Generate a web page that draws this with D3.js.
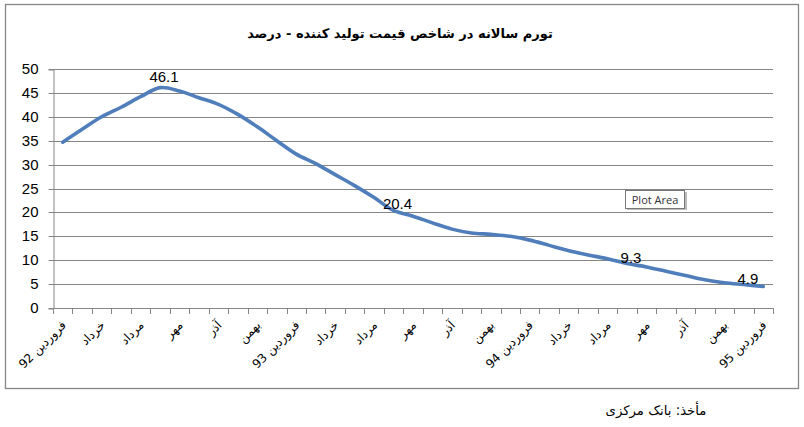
<!DOCTYPE html>
<html>
<head>
<meta charset="utf-8">
<script src="https://cdn.jsdelivr.net/npm/d3@7"></script>
<style>
  html, body { margin: 0; padding: 0; background: #fff; }
  svg { display: block; }
</style>
</head>
<body>
<svg id="chart" width="804" height="427"></svg>
<script>
// ---- data ----
const title = "تورم سالانه در شاخص قیمت تولید کننده - درصد";
const source = "مأخذ: بانک مرکزی";
const categories = [
  "فروردین 92", "اردیبهشت", "خرداد", "تیر", "مرداد", "شهریور", "مهر", "آبان", "آذر", "دی", "بهمن", "اسفند",
  "فروردین 93", "اردیبهشت", "خرداد", "تیر", "مرداد", "شهریور", "مهر", "آبان", "آذر", "دی", "بهمن", "اسفند",
  "فروردین 94", "اردیبهشت", "خرداد", "تیر", "مرداد", "شهریور", "مهر", "آبان", "آذر", "دی", "بهمن", "اسفند",
  "فروردین 95"
];
const values = [
  34.7, 37.4, 40.0, 42.0, 44.2, 46.1, 45.4, 44.0, 42.6, 40.5, 37.9, 35.0,
  32.2, 30.2, 27.9, 25.6, 23.1, 20.4, 19.2, 17.8, 16.5, 15.7, 15.4, 15.0,
  14.2, 13.1, 12.0, 11.1, 10.3, 9.3, 8.6, 7.7, 6.8, 5.9, 5.3, 4.9, 4.5
];
const labeledPoints = [5, 17, 29, 35];
const yTicks = [0, 5, 10, 15, 20, 25, 30, 35, 40, 45, 50];

// ---- layout ----
const svg = d3.select("#chart");
const plotLeft = 53, plotRight = 773, plotTop = 69, plotBottom = 308;
const gridColor = "#868686";
const lineColor = "#4F7EBB";
const arabicFont = "'DejaVu Sans', sans-serif";
const numFont = "'Liberation Sans', Arial, sans-serif";

svg.append("rect").attr("width", 804).attr("height", 427).attr("fill", "#fff");
svg.append("rect").attr("x", 5.5).attr("y", 4.5).attr("width", 793).attr("height", 384)
  .attr("fill", "none").attr("stroke", gridColor).attr("stroke-width", 1.3);

const idx = d3.range(categories.length);
const x = d3.scaleBand().domain(idx).range([plotLeft, plotRight]).padding(0);
const y = d3.scaleLinear().domain([0, 50]).range([plotBottom, plotTop]);
const cx = i => x(i) + x.bandwidth() / 2;

// gridlines
svg.append("g").selectAll("line").data(yTicks.filter(v => v > 0)).join("line")
  .attr("x1", plotLeft).attr("x2", plotRight)
  .attr("y1", d => Math.round(y(d)) + 0.5).attr("y2", d => Math.round(y(d)) + 0.5)
  .attr("stroke", gridColor).attr("stroke-width", 1);

// y axis
const yAxis = d3.axisLeft(y).tickValues(yTicks).tickSize(5).tickPadding(10);
const gy = svg.append("g").attr("transform", `translate(${plotLeft + 0.5},0.5)`).call(yAxis);
gy.select(".domain").attr("stroke", gridColor);
gy.selectAll(".tick line").attr("stroke", gridColor);
gy.selectAll(".tick text").attr("font-family", numFont).attr("font-size", 15).attr("fill", "#000");
gy.selectAll(".tick").attr("transform", d => `translate(0,${Math.round(y(d))})`);

// x axis: ticks at category boundaries
const boundaries = d3.range(categories.length + 1).map(i => plotLeft + i * x.bandwidth());
const gx = svg.append("g");
gx.append("line").attr("x1", plotLeft).attr("x2", plotRight + 0.5)
  .attr("y1", Math.round(plotBottom) + 0.5).attr("y2", Math.round(plotBottom) + 0.5)
  .attr("stroke", gridColor);
gx.selectAll("line.t").data(boundaries).join("line").attr("class", "t")
  .attr("x1", d => Math.round(d) + 0.5).attr("x2", d => Math.round(d) + 0.5)
  .attr("y1", Math.round(plotBottom)).attr("y2", Math.round(plotBottom) + 6)
  .attr("stroke", gridColor);

// x labels (every other category)
gx.selectAll("text").data(idx.filter(i => i % 2 === 0)).join("text")
  .attr("transform", i => `translate(${cx(i) + 4},${plotBottom + 18}) rotate(-45)`)
  .attr("text-anchor", "end")
  .attr("font-family", arabicFont).attr("font-size", 12).attr("fill", "#000")
  .text(i => categories[i]);

// line
const line = d3.line().x((d, i) => cx(i)).y(d => y(d)).curve(d3.curveCatmullRom.alpha(0.5));
svg.append("path").datum(values).attr("d", line)
  .attr("fill", "none").attr("stroke", lineColor).attr("stroke-width", 3.6)
  .attr("stroke-linecap", "round").attr("stroke-linejoin", "round");

// data labels
svg.append("g").selectAll("text").data(labeledPoints).join("text")
  .attr("x", i => cx(i) + 4)
  .attr("y", i => y(values[i]) - (values[i] === d3.max(values) ? 6 : 1))
  .attr("text-anchor", "middle")
  .attr("font-family", numFont).attr("font-size", 15).attr("fill", "#000")
  .text(i => values[i].toFixed(1));

// title
const t = svg.append("text").attr("x", 400).attr("y", 38).attr("text-anchor", "middle")
  .attr("font-family", arabicFont).attr("font-weight", "bold").attr("font-size", 15)
  .attr("fill", "#000").text(title);
const tw = t.node().getComputedTextLength();
t.attr("font-size", 15 * 306 / tw);

// source
const s = svg.append("text").attr("x", 656).attr("y", 415).attr("text-anchor", "middle")
  .attr("font-family", arabicFont).attr("font-size", 13).attr("fill", "#000")
  .text(source);
const sw = s.node().getComputedTextLength();
s.attr("font-size", 13 * 101 / sw);

// "Plot Area" tooltip
const tip = svg.append("g").attr("transform", "translate(625,190)");
tip.append("rect").attr("x", 2).attr("y", 2).attr("width", 60).attr("height", 18).attr("fill", "#bbb");
tip.append("rect").attr("x", 0.5).attr("y", 0.5).attr("width", 59).attr("height", 18)
  .attr("fill", "#fff").attr("stroke", "#777");
tip.append("text").attr("x", 30).attr("y", 14).attr("text-anchor", "middle")
  .attr("font-family", "'Open Sans', sans-serif").attr("font-size", 11).attr("fill", "#333")
  .text("Plot Area");
</script>
</body>
</html>
